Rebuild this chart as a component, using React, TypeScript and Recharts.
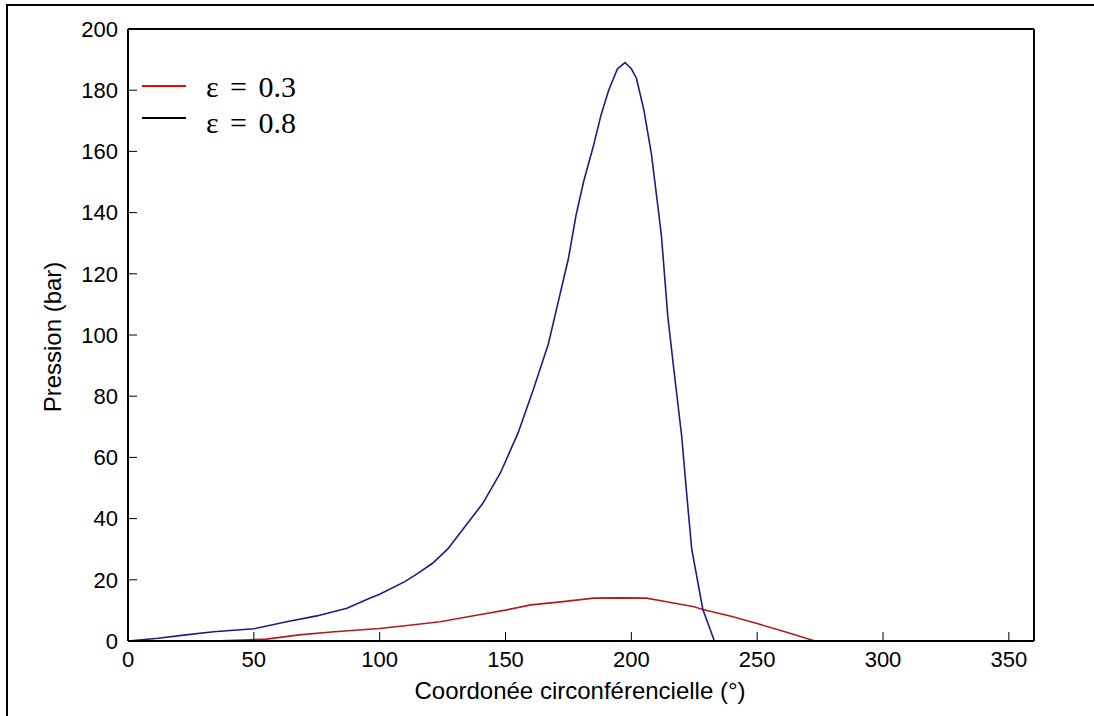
import React from 'react';
import { LineChart, Line, XAxis, YAxis, Legend, Label } from 'recharts';

// ε = 0.8 (blue curve)
const blueAngles = [0, 12, 23, 34, 50, 63, 75, 87, 96, 100, 110, 115, 121, 127, 134, 141, 148, 155, 161, 167, 171, 175, 178, 181, 185, 188, 191, 194.5, 197.5, 200, 202, 205, 208, 211, 212, 214.5, 217, 220, 222, 224, 228.4, 233, 280];
const blueValues = [0, 0.9, 2, 3, 4, 6.3, 8.2, 10.7, 14, 15.3, 19.4, 22, 25.4, 30, 37.5, 45, 55, 68, 82, 97, 111, 125, 139, 150, 162, 172, 180, 187, 189, 187, 184, 173.5, 159, 139, 132, 106, 88, 67, 48, 30, 10.4, 0, 0];

// ε = 0.3 (red curve)
const redAngles = [0, 34, 45, 55, 68, 82, 100, 110, 124, 139, 150, 160, 172, 185, 195, 206, 214, 225, 228, 240, 250, 263, 273, 360];
const redValues = [0, 0, 0.3, 0.6, 2, 3, 4.1, 5, 6.3, 8.5, 10.1, 11.8, 12.8, 14, 14.1, 14, 12.8, 11.2, 10.4, 8, 5.7, 2.5, 0, 0];

const xTicks = [0, 50, 100, 150, 200, 250, 300, 350];
const yTicks = [0, 20, 40, 60, 80, 100, 120, 140, 160, 180, 200];
const legendLabels = ['ε = 0.3', 'ε = 0.8'];
const legendColors = ['#ff0000', '#000000'];
const xLabel = 'Coordonée circonférencielle (°)';
const yLabel = 'Pression (bar)';

const blueData = blueAngles.map((a, i) => ({ angle: a, p: blueValues[i] }));
const redData = redAngles.map((a, i) => ({ angle: a, p: redValues[i] }));

const FONT = '"Liberation Sans", Arial, sans-serif';
const tickStyle = { fill: '#000', fontSize: 22, fontFamily: FONT };

const LegendBox = () => (
  <svg width={320} height={150} style={{ display: 'block' }}>
    {legendLabels.map((lab, i) => (
      <g key={lab}>
        <line x1={142} x2={186} y1={86 + i * 32} y2={86 + i * 32} stroke={legendColors[i]} strokeWidth={2} />
        <text x={206} y={96.5 + i * 36.5} fontFamily='"Liberation Serif", "Times New Roman", serif' fontSize={30} fill="#000" style={{ wordSpacing: 4 }}>
          {lab}
        </text>
      </g>
    ))}
  </svg>
);

export default function App() {
  return (
    <div style={{ position: 'absolute', left: 0, top: 0, width: 1094, height: 716, background: '#fff', overflow: 'hidden' }}>
      <div style={{ position: 'absolute', left: 6, top: 4, width: 1088, height: 712, borderLeft: '2px solid #000', borderTop: '2px solid #000', boxSizing: 'border-box' }} />
      <div style={{ position: 'absolute', left: 0, top: 0 }}>
        <LineChart width={1094} height={716} margin={{ top: 28, right: 59, bottom: 35, left: 0 }}>
          <XAxis xAxisId="b" dataKey="angle" type="number" domain={[0, 360]} ticks={xTicks} interval={0} height={40}
            tickSize={-9} tickMargin={19} axisLine={{ stroke: '#000', strokeWidth: 2 }} tickLine={{ stroke: '#000', strokeWidth: 1 }} tick={tickStyle} allowDataOverflow>
            <Label content={() => (
              <text x={580} y={699} textAnchor="middle" fontFamily={FONT} fontSize={24} fill="#000">{xLabel}</text>
            )} />
          </XAxis>
          <XAxis xAxisId="t" orientation="top" dataKey="angle" type="number" domain={[0, 360]} ticks={xTicks} interval={0} height={1}
            tickSize={-9} axisLine={{ stroke: '#000', strokeWidth: 2 }} tickLine={{ stroke: '#000', strokeWidth: 1 }} tick={false} allowDataOverflow />
          <YAxis yAxisId="l" type="number" domain={[0, 200]} ticks={yTicks} interval={0} width={128}
            tickSize={-9} tickMargin={19} axisLine={{ stroke: '#000', strokeWidth: 2 }} tickLine={{ stroke: '#000', strokeWidth: 1 }} tick={tickStyle} allowDataOverflow>
            <Label content={() => (
              <text x={61} y={337} transform="rotate(-90 61 337)" textAnchor="middle" fontFamily={FONT} fontSize={24} fill="#000">{yLabel}</text>
            )} />
          </YAxis>
          <YAxis yAxisId="r" orientation="right" type="number" domain={[0, 200]} ticks={yTicks} interval={0} width={1}
            tickSize={-9} axisLine={{ stroke: '#000', strokeWidth: 2 }} tickLine={{ stroke: '#000', strokeWidth: 1 }} tick={false} allowDataOverflow />
          <Line xAxisId="b" yAxisId="l" data={redData} dataKey="p" type="linear" stroke="#b41c1c" strokeWidth={1.6} dot={false} isAnimationActive={false} />
          <Line xAxisId="b" yAxisId="l" data={blueData} dataKey="p" type="linear" stroke="#1c1c88" strokeWidth={1.6} dot={false} isAnimationActive={false} />
          <Legend layout="horizontal" verticalAlign="middle" align="center" content={() => <LegendBox />}
            wrapperStyle={{ position: 'absolute', left: 0, top: 0, width: 320, height: 150 }} />
        </LineChart>
      </div>
    </div>
  );
}
